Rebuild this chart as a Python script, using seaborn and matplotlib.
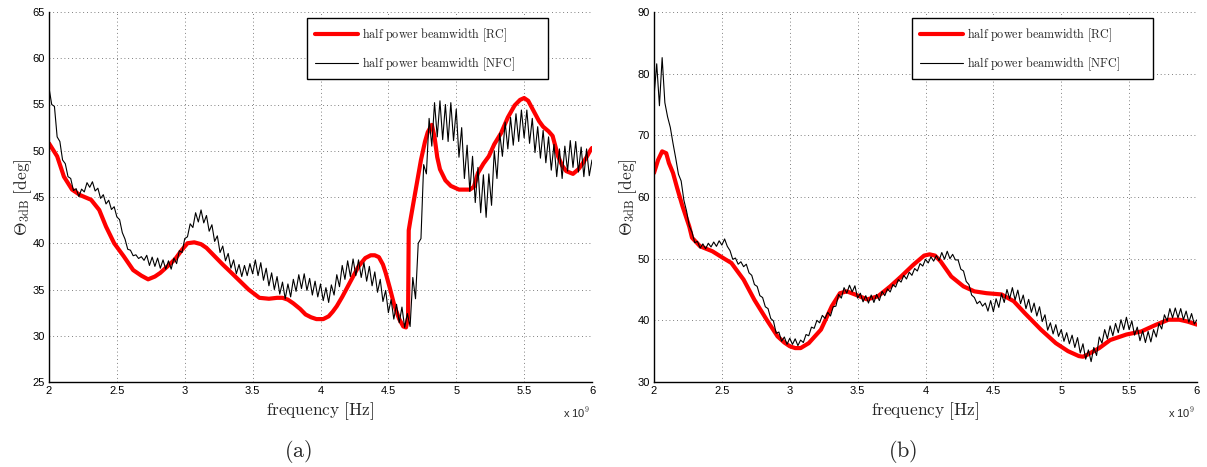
import numpy as np
import pandas as pd
import matplotlib
matplotlib.use('Agg')
import matplotlib.pyplot as plt
import seaborn as sns
from matplotlib.patches import Rectangle
from matplotlib.ticker import FuncFormatter, MultipleLocator

# data (frequency in GHz)
rc_a_f = [2.00, 2.06, 2.11, 2.17, 2.23, 2.31, 2.37, 2.42, 2.48, 2.55,
          2.62, 2.68, 2.73, 2.78, 2.82, 2.88, 2.93, 2.98, 3.02, 3.07,
          3.12, 3.16, 3.22, 3.28, 3.33, 3.40, 3.47, 3.55, 3.62, 3.68,
          3.72, 3.76, 3.80, 3.85, 3.89, 3.93, 3.97, 4.02, 4.06, 4.09,
          4.12, 4.16, 4.20, 4.24, 4.28, 4.33, 4.37, 4.40, 4.43, 4.46,
          4.48, 4.51, 4.54, 4.56, 4.58, 4.61, 4.63, 4.645, 4.65, 4.66,
          4.68, 4.71, 4.74, 4.77, 4.79, 4.82, 4.84, 4.86, 4.88, 4.92,
          4.96, 5.02, 5.10, 5.13, 5.16, 5.20, 5.24, 5.28, 5.33, 5.38,
          5.43, 5.47, 5.50, 5.53, 5.57, 5.61, 5.64, 5.68, 5.71, 5.75,
          5.78, 5.81, 5.86, 5.90, 5.93, 5.96, 5.99, 6.00]
rc_a = [50.8, 49.4, 47.2, 45.8, 45.2, 44.7, 43.6, 41.8, 40.0, 38.6,
        37.1, 36.5, 36.1, 36.4, 36.8, 37.6, 38.3, 39.3, 40.0, 40.1,
        39.9, 39.5, 38.6, 37.7, 37.0, 36.0, 35.0, 34.1, 34.0, 34.1,
        34.1, 33.9, 33.5, 32.9, 32.3, 32.0, 31.8, 31.8, 32.1, 32.6,
        33.2, 34.2, 35.3, 36.4, 37.5, 38.4, 38.7, 38.7, 38.5, 37.7,
        36.8, 35.2, 33.5, 32.6, 31.8, 31.0, 30.9, 32.0, 41.4, 42.3,
        44.0, 46.5, 49.0, 51.0, 52.0, 52.8, 51.5, 49.3, 48.0, 46.8,
        46.2, 45.8, 45.8, 46.1, 47.6, 48.6, 49.4, 50.7, 51.9, 53.6,
        54.9, 55.5, 55.7, 55.4, 54.3, 53.2, 52.6, 52.1, 51.6, 49.4,
        48.4, 47.8, 47.5, 48.0, 48.6, 49.3, 50.1, 50.3]

# NFC samples every 0.02 GHz from 2 to 6
nfc_a = [56.8, 55.0, 54.8, 51.5, 51.0, 49.0, 48.6, 47.2, 47.0, 45.7,
         45.9, 45.05, 45.85, 45.55, 46.55, 46.05, 46.65, 45.65, 45.95, 44.85,
         45.25, 44.25, 44.65, 43.65, 43.95, 42.85, 42.55, 41.15, 40.45, 39.35,
         39.25, 38.65, 38.75, 38.35, 38.55, 38.15, 38.7, 37.6, 38.5, 37.5,
         38.4, 37.3, 38.2, 37.2, 38.1, 37.2, 38.4, 37.8, 39.2, 39.0,
         40.5, 40.7, 42.1, 41.7, 43.3, 42.3, 43.6, 42.2, 43.0, 41.3,
         42.0, 40.2, 40.8, 39.0, 39.7, 38.1, 38.9, 37.3, 38.2, 36.7,
         37.7, 36.4, 37.6, 36.5, 37.8, 36.7, 38.2, 36.5, 37.9, 36.0,
         37.3, 35.4, 36.8, 35.0, 36.4, 34.5, 35.8, 34.0, 35.6, 34.2,
         36.1, 34.8, 36.6, 35.1, 36.7, 34.9, 36.2, 34.4, 35.9, 34.2,
         35.6, 33.8, 35.2, 33.6, 35.5, 34.4, 36.6, 35.3, 37.6, 36.1,
         38.1, 36.4, 38.3, 36.5, 38.2, 36.3, 37.9, 35.9, 37.5, 35.4,
         36.9, 34.7, 36.1, 33.7, 34.9, 32.5, 33.9, 31.8, 33.4, 31.4,
         33.1, 30.9, 32.4, 31.0, 36.3, 34.0, 40.0, 40.5, 48.5, 47.5,
         53.5, 50.5, 55.2, 51.5, 55.4, 51.2, 55.0, 51.0, 55.2, 51.1,
         54.5, 49.3, 52.5, 47.0, 50.6, 45.6, 49.4, 44.4, 48.2, 43.3,
         47.4, 42.8, 47.5, 44.1, 50.0, 47.0, 51.9, 49.4, 53.1, 50.2,
         53.6, 50.6, 54.0, 51.0, 54.4, 51.4, 54.4, 50.8, 53.5, 49.8,
         52.6, 49.2, 52.2, 48.7, 51.5, 47.9, 50.7, 47.2, 50.2, 47.0,
         50.5, 47.8, 51.1, 48.2, 51.0, 47.7, 50.4, 47.2, 50.2, 47.3,
         49.0]

rc_b_f = [2.00, 2.03, 2.06, 2.09, 2.11, 2.14, 2.17, 2.21, 2.26, 2.28,
          2.34, 2.43, 2.51, 2.57, 2.66, 2.74, 2.83, 2.91, 2.96, 3.00,
          3.04, 3.08, 3.14, 3.23, 3.31, 3.37, 3.42, 3.48, 3.57, 3.65,
          3.74, 3.82, 3.91, 3.99, 4.03, 4.07, 4.11, 4.19, 4.28, 4.36,
          4.45, 4.56, 4.65, 4.73, 4.85, 4.96, 5.05, 5.13, 5.16, 5.19,
          5.28, 5.36, 5.48, 5.59, 5.70, 5.79, 5.87, 5.93, 6.00]
rc_b = [63.9, 66.0, 67.4, 67.1, 65.5, 63.9, 61.5, 58.5, 55.2, 53.4,
        52.0, 51.2, 50.1, 49.3, 46.6, 43.3, 40.1, 37.4, 36.4, 35.8,
        35.5, 35.5, 36.3, 38.5, 42.3, 44.4, 44.7, 44.2, 43.4, 43.9,
        45.5, 47.1, 49.0, 50.5, 50.7, 50.5, 49.6, 47.1, 45.5, 44.7,
        44.4, 44.2, 43.1, 41.2, 38.5, 36.3, 35.0, 34.2, 34.1, 34.4,
        35.5, 36.8, 37.7, 38.2, 39.3, 40.1, 40.1, 39.8, 39.3]

nfc_b = [76.3, 81.6, 74.8, 82.6, 75.3, 73.0, 71.3, 68.7, 66.3, 63.7,
         62.6, 59.5, 57.7, 55.3, 54.3, 52.6, 52.8, 51.7, 52.4, 51.6,
         52.5, 51.9, 52.7, 52.0, 52.9, 52.2, 53.2, 52.0, 51.3, 49.9,
         50.1, 49.1, 49.5, 48.7, 49.1, 47.7, 47.3, 45.8, 45.5, 44.0,
         43.7, 42.2, 41.9, 40.3, 39.9, 37.9, 38.1, 36.6, 37.3, 36.1,
         37.1, 36.1, 37.0, 35.9, 36.8, 36.4, 37.7, 37.5, 38.9, 38.7,
         40.0, 39.6, 40.8, 40.3, 41.3, 40.7, 42.2, 42.3, 44.2, 43.6,
         45.3, 44.4, 45.7, 44.6, 45.6, 43.6, 44.4, 43.0, 44.0, 42.8,
         44.1, 42.9, 44.2, 43.2, 44.7, 44.0, 45.1, 44.6, 45.8, 45.4,
         46.6, 46.2, 47.3, 46.7, 47.8, 47.3, 48.4, 48.0, 49.2, 48.8,
         49.9, 49.3, 50.3, 49.6, 50.5, 49.7, 51.0, 49.9, 51.2, 50.0,
         50.7, 49.8, 49.8, 48.3, 48.0, 46.3, 45.8, 44.1, 43.7, 42.7,
         43.1, 42.3, 42.8, 41.5, 43.2, 41.4, 43.5, 42.1, 44.3, 42.9,
         45.0, 43.5, 45.3, 43.3, 44.9, 42.7, 44.1, 41.9, 43.4, 41.3,
         42.8, 40.7, 42.2, 39.8, 40.9, 38.4, 39.6, 37.8, 39.3, 37.4,
         38.5, 36.6, 38.0, 36.2, 37.6, 35.6, 37.2, 34.7, 36.2, 33.7,
         35.2, 33.3, 35.6, 34.3, 37.3, 36.3, 38.5, 37.0, 39.1, 37.5,
         39.5, 38.0, 40.1, 38.5, 40.5, 38.5, 39.9, 37.6, 38.9, 36.7,
         38.3, 36.4, 38.2, 36.5, 38.5, 37.3, 39.5, 38.6, 40.9, 39.9,
         41.9, 40.4, 42.0, 40.4, 41.9, 40.1, 41.5, 39.7, 41.1, 39.4,
         40.1]

assert len(nfc_a) == 201 and len(nfc_b) == 201
nfc_f = np.linspace(2, 6, 201)

lbl_rc = r'$\rm half\ power\ beamwidth\ [RC]$'
lbl_nfc = r'$\rm half\ power\ beamwidth\ [NFC]$'

sns.set_style('white')
plt.rcParams['font.family'] = ['Liberation Sans', 'DejaVu Sans']
plt.rcParams['mathtext.fontset'] = 'cm'

fig = plt.figure(figsize=(12.07, 4.67), dpi=100)
ax_a = fig.add_axes([49/1207, 85/467, 543/1207, 370/467])
ax_b = fig.add_axes([654/1207, 85/467, 543/1207, 370/467])

panels = [(ax_a, rc_a_f, rc_a, nfc_a, (25, 65), 5, 'a'),
          (ax_b, rc_b_f, rc_b, nfc_b, (30, 90), 10, 'b')]

for ax, rf, rv, nv, ylim, ystep, cap in panels:
    sns.lineplot(x=np.array(rf) * 1e9, y=rv, ax=ax, color='red', linewidth=3.0,
                 label=lbl_rc, estimator=None, sort=False)
    sns.lineplot(x=nfc_f * 1e9, y=nv, ax=ax, color='black', linewidth=0.8,
                 label=lbl_nfc, estimator=None, sort=False)
    ax.set_xlim(2e9, 6e9)
    ax.set_ylim(*ylim)
    ax.xaxis.set_major_locator(MultipleLocator(0.5e9))
    ax.yaxis.set_major_locator(MultipleLocator(ystep))
    ax.xaxis.set_major_formatter(FuncFormatter(lambda v, p: '%g' % (v / 1e9)))
    ax.grid(True, color='#555555', linestyle=(0, (1, 3.5)), linewidth=0.6)
    ax.tick_params(direction='in', length=3, width=0.8, labelsize=8,
                   colors='black', pad=3)
    ax.spines['top'].set_visible(False)
    ax.spines['right'].set_visible(False)
    for s in ['left', 'bottom']:
        ax.spines[s].set_color('black')
        ax.spines[s].set_linewidth(1.0)
    ax.set_xlabel(r'$\rm frequency\ [Hz]$', fontsize=12.5, labelpad=3)
    ax.set_ylabel(r'$\Theta_{\rm 3dB}\ [\rm deg]$', fontsize=12.5, labelpad=-1)

    # legend box is wider on the right than matplotlib's symmetric padding,
    # so draw the frame separately
    ax.add_patch(Rectangle((0.475, 0.819), 0.444, 0.165, transform=ax.transAxes,
                           facecolor='white', edgecolor='black', linewidth=1.0,
                           zorder=4, clip_on=False))
    leg = ax.legend(loc='upper left', bbox_to_anchor=(0.475, 0.984), fontsize=8.7,
                    frameon=False, handlelength=3.5, labelspacing=0.95,
                    borderpad=0.7, handletextpad=0.35, borderaxespad=0)
    leg.set_zorder(5)
    ax.text(0.996, -0.084, r'x 10$^{\mathsf{9}}$', transform=ax.transAxes,
            ha='right', va='center', fontsize=8)
    ax.text(0.458, -0.189, r'$\rm (%s)$' % cap, transform=ax.transAxes,
            ha='center', va='center', fontsize=16)

plt.savefig('out.png', dpi=100)
